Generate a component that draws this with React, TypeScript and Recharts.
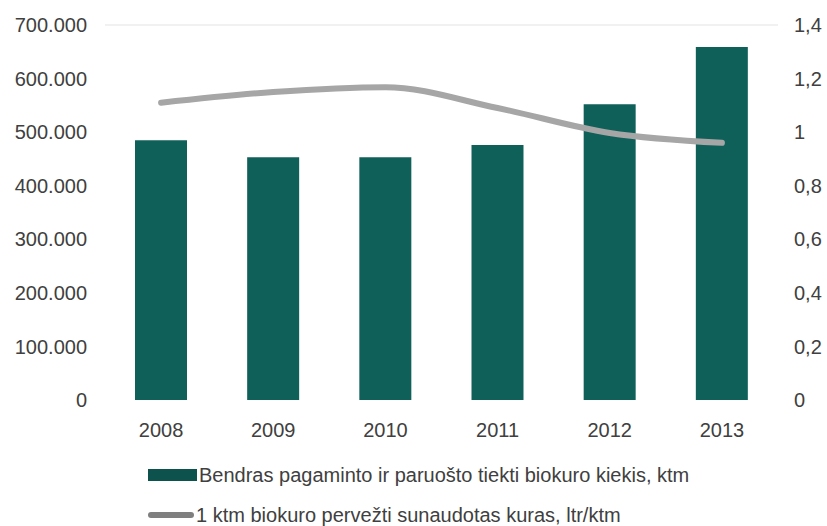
import * as React from 'react';
import { ComposedChart, Bar, Line, XAxis, YAxis, Legend, ReferenceLine } from 'recharts';

// values
const years = ['2008', '2009', '2010', '2011', '2012', '2013'];
const biofuelAmount = [485000, 453000, 453000, 476000, 552000, 659000];
const fuelPerKtm = [1.11, 1.15, 1.168, 1.09, 0.997, 0.96];

const leftTicks = [0, 100000, 200000, 300000, 400000, 500000, 600000, 700000];
const rightTicks = [0, 0.2, 0.4, 0.6, 0.8, 1, 1.2, 1.4];

const barName = 'Bendras pagaminto ir paruošto tiekti biokuro kiekis, ktm';
const lineName = '1 ktm biokuro pervežti sunaudotas kuras, ltr/ktm';

const data = years.map((year, i) => ({
	year,
	amount: biofuelAmount[i],
	fuel: fuelPerKtm[i],
}));

const FONT = '"Liberation Sans", Arial, sans-serif';
const TEXT = '#404040';
const BAR = '#10605a';
const LINE = '#a6a6a6';

const fmtLeft = (v: number) => (v === 0 ? '0' : (v / 1000).toFixed(0) + '.000');
const fmtRight = (v: number) => String(Math.round(v * 10) / 10).replace('.', ',');

function LegendBox() {
	const row: React.CSSProperties = {
		display: 'flex',
		alignItems: 'center',
		height: 40,
		fontFamily: FONT,
		fontSize: 20,
		color: TEXT,
		paddingLeft: 148,
	};
	return (
		<div>
			<div style={row}>
				<span style={{ display: 'inline-block', width: 49, height: 12, background: '#0d524c', marginRight: 2 }} />
				{barName}
			</div>
			<div style={row}>
				<span style={{ display: 'inline-block', width: 46, height: 6, borderRadius: 3, background: '#7f7f7f', marginRight: 2 }} />
				{lineName}
			</div>
		</div>
	);
}

export default function App() {
	const tick = { fill: TEXT, fontSize: 20, fontFamily: FONT };
	return (
		<div style={{ position: 'absolute', left: 0, top: 0 }}>
			<ComposedChart
				width={827}
				height={526}
				data={data}
				margin={{ top: 25, right: 0, bottom: 0, left: 0 }}
			>
				<XAxis
					dataKey="year"
					axisLine={false}
					tickLine={false}
					tick={tick}
					tickMargin={17}
					height={46}
				/>
				<YAxis
					yAxisId="left"
					domain={[0, 700000]}
					ticks={leftTicks}
					tickFormatter={fmtLeft}
					axisLine={false}
					tickLine={false}
					tickSize={0}
					tickMargin={18}
					width={105}
					tick={tick}
					interval={0}
				/>
				<YAxis
					yAxisId="right"
					orientation="right"
					domain={[0, 1.4]}
					ticks={rightTicks}
					tickFormatter={fmtRight}
					axisLine={false}
					tickLine={false}
					tickSize={0}
					tickMargin={16}
					width={49}
					tick={tick}
					interval={0}
				/>
				<ReferenceLine yAxisId="left" y={700000} stroke="#e3e3e3" strokeWidth={1} />
				<Bar yAxisId="left" dataKey="amount" name={barName} fill={BAR} barSize={52} isAnimationActive={false} />
				<Line
					yAxisId="right"
					type="monotone"
					dataKey="fuel"
					name={lineName}
					stroke={LINE}
					strokeWidth={6}
					strokeLinecap="round"
					dot={false}
					isAnimationActive={false}
				/>
				<Legend
					content={<LegendBox />}
					wrapperStyle={{ left: 0, top: 455, width: 827 }}
				/>
			</ComposedChart>
		</div>
	);
}
